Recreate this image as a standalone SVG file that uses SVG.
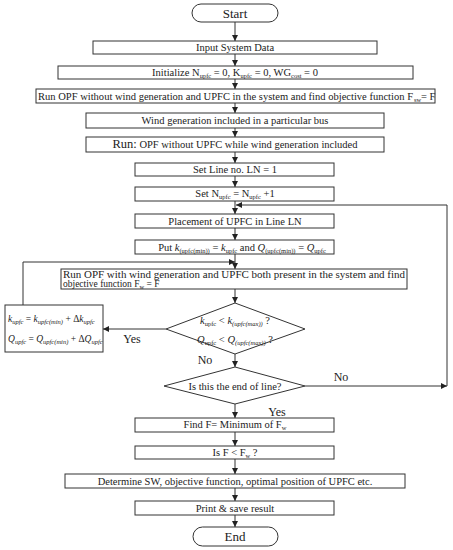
<svg xmlns="http://www.w3.org/2000/svg" width="453" height="550" viewBox="0 0 453 550">
<defs>
<marker id="ah" markerUnits="userSpaceOnUse" markerWidth="6" markerHeight="6" refX="6" refY="3" orient="auto">
<path d="M0,0 L6,3 L0,6 z" fill="#222"/>
</marker>
<style>
.b{fill:#fff;stroke:#333;stroke-width:1}
.t{font-family:"Liberation Serif","DejaVu Serif",serif;font-size:10.5px;fill:#222;text-anchor:middle}
.l{text-anchor:start}
.s{font-size:6.5px}
.i{font-style:italic}
.c{fill:none;stroke:#333;stroke-width:1;marker-end:url(#ah)}
</style>
</defs>
<rect width="453" height="550" fill="#fff"/>
<g id="connectors">
<line class="c" x1="235" y1="22" x2="235" y2="41"/>
<line class="c" x1="235" y1="54" x2="235" y2="66"/>
<line class="c" x1="235" y1="79" x2="235" y2="89"/>
<line class="c" x1="235" y1="103" x2="235" y2="113"/>
<line class="c" x1="235" y1="128" x2="235" y2="137"/>
<line class="c" x1="235" y1="152" x2="235" y2="163"/>
<line class="c" x1="235" y1="176" x2="235" y2="187"/>
<line class="c" x1="235" y1="201" x2="235" y2="214"/>
<line class="c" x1="235" y1="228" x2="235" y2="240"/>
<line class="c" x1="235" y1="254" x2="235" y2="269"/>
<line class="c" x1="235" y1="289" x2="235" y2="303"/>
<line class="c" x1="235" y1="354" x2="235" y2="367"/>
<line class="c" x1="235" y1="404" x2="235" y2="418"/>
<line class="c" x1="235" y1="432" x2="235" y2="446"/>
<line class="c" x1="235" y1="459" x2="235" y2="474"/>
<line class="c" x1="235" y1="488" x2="235" y2="501"/>
<line class="c" x1="235" y1="515" x2="235" y2="527"/>
<line class="c" x1="166" y1="329" x2="103" y2="329"/>
<polyline class="c" points="23,305 23,262 235,262"/>
<line class="c" x1="305" y1="386" x2="447" y2="386"/>
<polyline class="c" points="447,386 447,205 236,205"/>
<text class="t" x="132" y="343" style="font-size:12px">Yes</text>
<text class="t" x="205" y="364" style="font-size:12px">No</text>
<text class="t" x="341" y="381" style="font-size:12px">No</text>
<text class="t" x="277" y="416" style="font-size:12px">Yes</text>
</g>
<g id="start">
<rect class="b" x="192" y="4" width="86" height="18" rx="9"/>
<text class="t" x="235" y="17.5" style="font-size:13px">Start</text>
</g>
<g id="input">
<rect class="b" x="93" y="41" width="284" height="13"/>
<text class="t" x="235" y="51">Input System Data</text>
</g>
<g id="init">
<rect class="b" x="58" y="66" width="355" height="13"/>
<text class="t" x="235" y="76">Initialize N<tspan class="s" dy="2">upfc</tspan><tspan dy="-2"> = 0, K</tspan><tspan class="s" dy="2">upfc</tspan><tspan dy="-2"> = 0, WG</tspan><tspan class="s" dy="2">cost</tspan><tspan dy="-2"> = 0</tspan></text>
</g>
<g id="opf1">
<rect class="b" x="36" y="89" width="399" height="14"/>
<text class="t l" x="38" y="100" textLength="375" lengthAdjust="spacingAndGlyphs">Run OPF without wind generation and UPFC in the system and find objective function F</text>
<text class="t l s" x="414" y="102">sw</text>
<text class="t l" x="421" y="100">= F</text>
</g>
<g id="wind">
<rect class="b" x="86" y="113" width="298" height="15"/>
<text class="t" x="235" y="124">Wind generation included in a particular bus</text>
</g>
<g id="run2">
<rect class="b" x="86" y="137" width="298" height="15"/>
<text class="t" x="235" y="148"><tspan style="font-size:12.5px">Run:</tspan> OPF without UPFC while wind generation included</text>
</g>
<g id="setline">
<rect class="b" x="135" y="163" width="199" height="13"/>
<text class="t" x="235" y="173">Set Line no. LN = 1</text>
</g>
<g id="setn">
<rect class="b" x="135" y="187" width="199" height="14"/>
<text class="t" x="235" y="197">Set N<tspan class="s" dy="2">upfc</tspan><tspan dy="-2"> = N</tspan><tspan class="s" dy="2">upfc</tspan><tspan dy="-2"> +1</tspan></text>
</g>
<g id="placement">
<rect class="b" x="135" y="214" width="199" height="14"/>
<text class="t" x="235" y="225">Placement of UPFC in Line LN</text>
</g>
<g id="put">
<rect class="b" x="135" y="240" width="199" height="14"/>
<text class="t" x="242" y="251">Put <tspan class="i">k</tspan><tspan class="s" dy="2">(upfc(min))</tspan><tspan dy="-2"> = </tspan><tspan class="i">k</tspan><tspan class="s" dy="2">upfc</tspan><tspan dy="-2"> and </tspan><tspan class="i">Q</tspan><tspan class="s" dy="2">(upfc(min))</tspan><tspan dy="-2"> = </tspan><tspan class="i">Q</tspan><tspan class="s" dy="2">upfc</tspan></text>
</g>
<g id="opf2">
<rect class="b" x="61" y="269" width="346" height="20"/>
<text class="t l" x="63" y="277.5" style="font-size:9.5px" textLength="342" lengthAdjust="spacingAndGlyphs">Run OPF with wind generation and UPFC both present in the system and find</text>
<text class="t l" x="63" y="287" style="font-size:9.5px">objective function F<tspan class="s" dy="1.5">w</tspan><tspan dy="-1.5"> = F</tspan></text>
</g>
<g id="check1">
<polygon class="b" points="235,303 305,329 235,354 166,329"/>
<text class="t" x="235" y="324"><tspan class="i">k</tspan><tspan class="s" dy="2">upfc</tspan><tspan dy="-2"> &lt; </tspan><tspan class="i">k</tspan><tspan class="s i" dy="2">(upfc(max))</tspan><tspan dy="-2"> ?</tspan></text>
<text class="t" x="235" y="343"><tspan class="i">Q</tspan><tspan class="s" dy="2">upfc</tspan><tspan dy="-2"> &lt; </tspan><tspan class="i">Q</tspan><tspan class="s i" dy="2">(upfc(max))</tspan><tspan dy="-2"> ?</tspan></text>
</g>
<g id="update">
<rect class="b" x="5" y="305" width="98" height="47"/>
<text class="t l i" x="8" y="322" style="font-size:9.5px">k<tspan class="s" dy="2">upfc</tspan><tspan dy="-2" style="font-style:normal"> = </tspan>k<tspan class="s" dy="2">upfc(min)</tspan><tspan dy="-2" style="font-style:normal"> + Δ</tspan>k<tspan class="s" dy="2">upfc</tspan></text>
<text class="t l i" x="8" y="342" style="font-size:9.5px">Q<tspan class="s" dy="2">upfc</tspan><tspan dy="-2" style="font-style:normal"> = </tspan>Q<tspan class="s" dy="2">upfc(min)</tspan><tspan dy="-2" style="font-style:normal"> + Δ</tspan>Q<tspan class="s" dy="2">upfc</tspan></text>
</g>
<g id="check2">
<polygon class="b" points="235,367 305,386 235,404 164,386"/>
<text class="t" x="235" y="389.5">Is this the end of line?</text>
</g>
<g id="findf">
<rect class="b" x="135" y="418" width="199" height="14"/>
<text class="t" x="235" y="428">Find F= Minimum of F<tspan class="s" dy="2">w</tspan></text>
</g>
<g id="isf">
<rect class="b" x="135" y="446" width="199" height="13"/>
<text class="t" x="235" y="456">Is F &lt; F<tspan class="s" dy="2">w</tspan><tspan dy="-2"> ?</tspan></text>
</g>
<g id="determine">
<rect class="b" x="65" y="474" width="340" height="14"/>
<text class="t" x="235" y="485">Determine SW, objective function, optimal position of UPFC etc.</text>
</g>
<g id="print">
<rect class="b" x="135" y="501" width="199" height="14"/>
<text class="t" x="235" y="512">Print &amp; save result</text>
</g>
<g id="end">
<rect class="b" x="193" y="527" width="85" height="19" rx="9.5"/>
<text class="t" x="235" y="541" style="font-size:13px">End</text>
</g>
</svg>
